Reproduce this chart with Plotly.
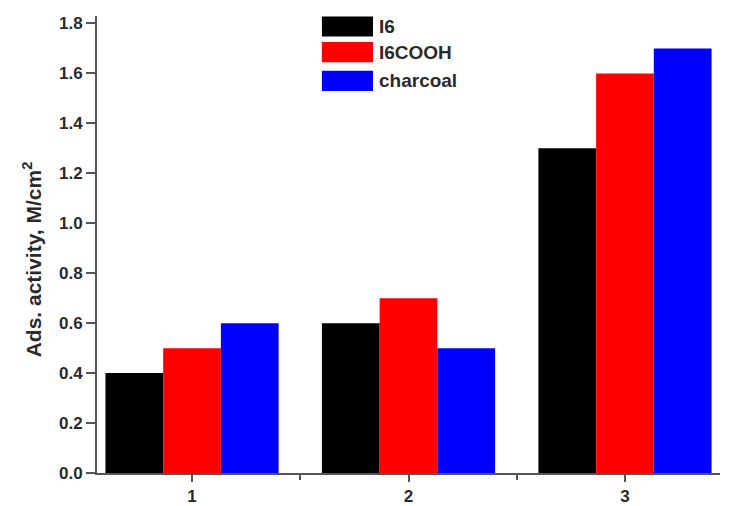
import plotly.graph_objects as go

categories = [1, 2, 3]
tick_labels = ["1", "2", "3"]
series_names = ["I6", "I6COOH", "charcoal"]
i6 = [0.4, 0.6, 1.3]
i6cooh = [0.5, 0.7, 1.6]
charcoal = [0.6, 0.5, 1.7]
colors = ["#000000", "#FF0000", "#0000FF"]
y_ticks = [0.0, 0.2, 0.4, 0.6, 0.8, 1.0, 1.2, 1.4, 1.6, 1.8]

FONT = "Arial, Liberation Sans, sans-serif"
fig = go.Figure()
for name, vals, col in zip(series_names, [i6, i6cooh, charcoal], colors):
    fig.add_trace(go.Bar(x=categories, y=vals, name=name, marker=dict(color=col, line=dict(width=0)),
                         showlegend=False))

axis_col = "#555555"
txt_col = "#2a2a2a"
fig.update_layout(
    width=738, height=506,
    margin=dict(l=97, r=18, t=16, b=33, autoexpand=False),
    paper_bgcolor="white", plot_bgcolor="white",
    barmode="group", bargap=0.2, bargroupgap=0,
    xaxis=dict(range=[0.561, 3.439], tickmode="array", tickvals=categories, ticktext=tick_labels,
               showline=True, linecolor=axis_col, linewidth=2, ticks="outside", ticklen=7,
               tickwidth=1.5, tickcolor=axis_col, showgrid=False, zeroline=False,
               ticklabelstandoff=0, automargin=False,
               minor=dict(tickvals=[1.5, 2.5], ticks="outside", ticklen=5, tickwidth=1.5, tickcolor=axis_col),
               tickfont=dict(family=FONT, size=17, color=txt_col, weight="bold")),
    yaxis=dict(range=[0, 1.83], tickmode="array", tickvals=y_ticks,
               ticktext=[f"{v:.1f}" for v in y_ticks], automargin=False,
               showline=True, linecolor=axis_col, linewidth=2, ticks="outside", ticklen=9,
               tickwidth=1.5, tickcolor=axis_col, showgrid=False, zeroline=False,
               tickfont=dict(family=FONT, size=17, color=txt_col, weight="bold")),
)

fig.add_annotation(text="Ads. activity, M/cm<sup>2</sup>", xref="paper", yref="paper",
                   x=-0.104, y=0.468, textangle=-90, showarrow=False,
                   xanchor="center", yanchor="middle",
                   font=dict(family=FONT, size=21, color=txt_col, weight="bold"))

# legend drawn manually (large swatches as in the reference)
row_y = [0.977, 0.921, 0.858]
for name, col, yc in zip(series_names, colors, row_y):
    fig.add_shape(type="rect", xref="paper", yref="paper", x0=0.361, x1=0.443,
                  y0=yc - 0.022, y1=yc + 0.022, fillcolor=col, line=dict(width=0))
    fig.add_annotation(text=name, xref="paper", yref="paper", x=0.449, y=yc,
                       xanchor="left", yanchor="middle", showarrow=False,
                       font=dict(family=FONT, size=19, color=txt_col, weight="bold"))

fig.write_html("out.html")
